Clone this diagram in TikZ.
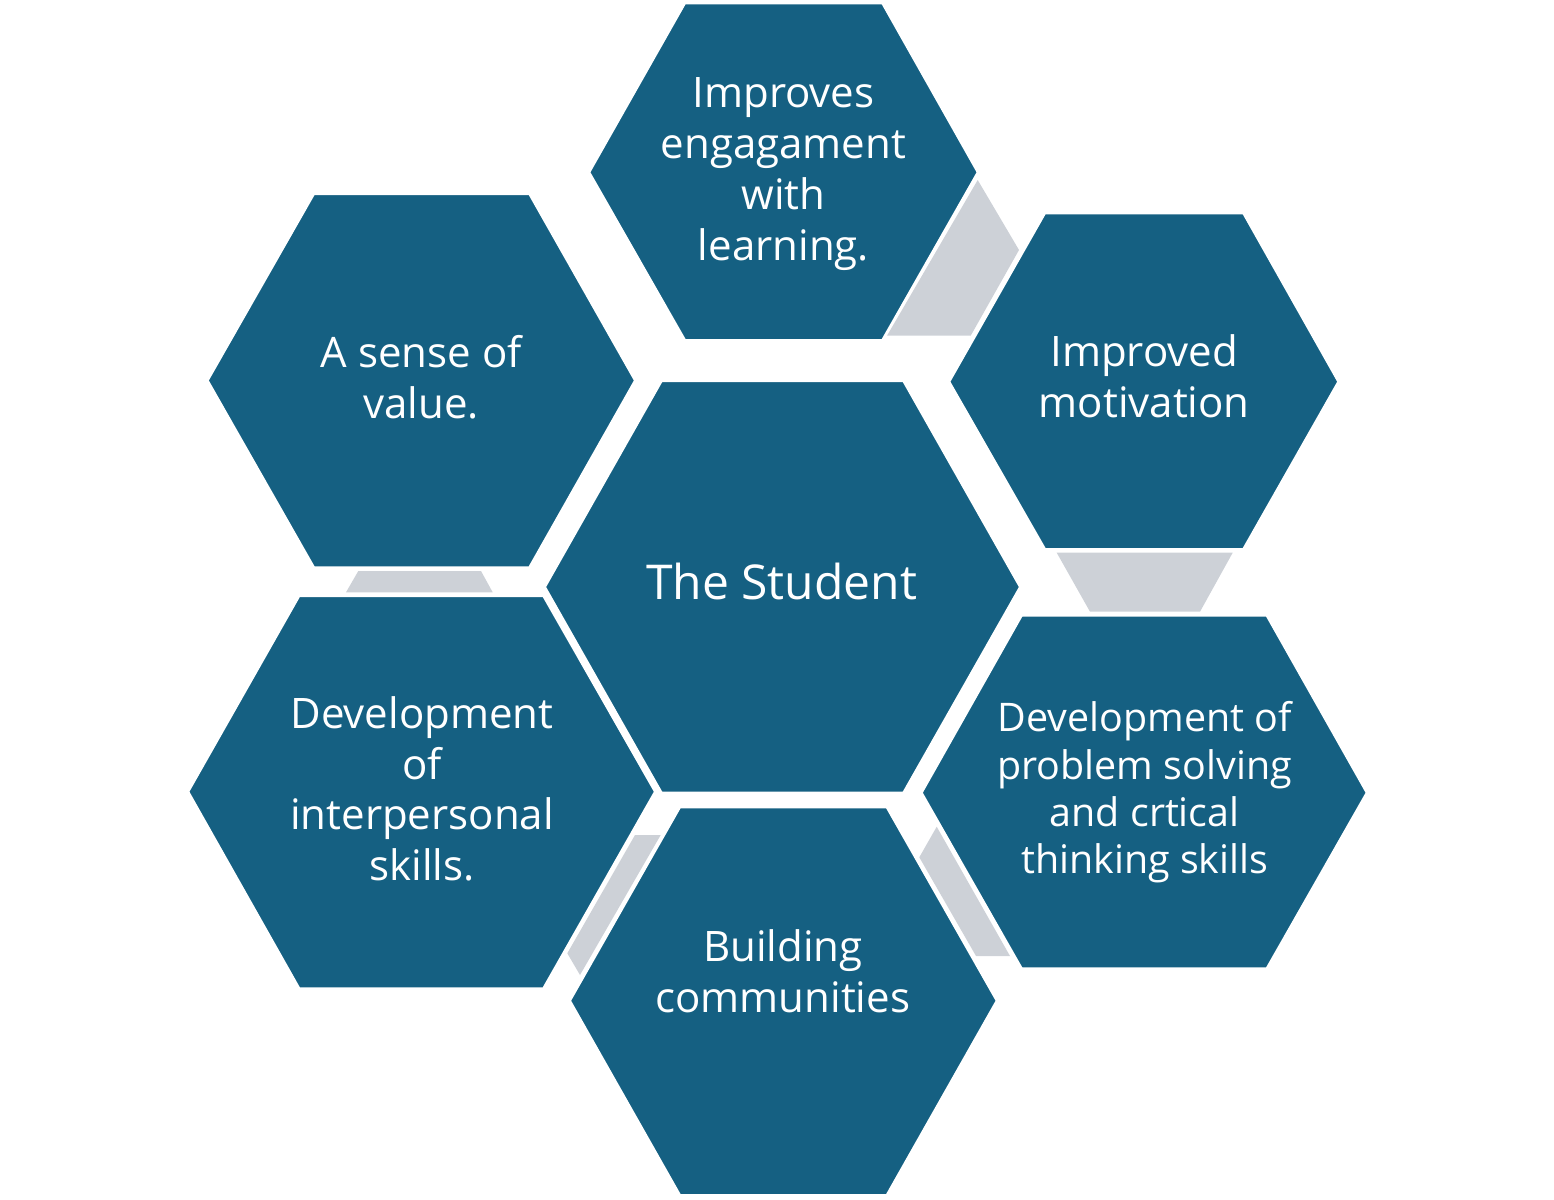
\documentclass[tikz,border=0pt]{standalone}
\usepackage{fontspec}
\setmainfont{Open Sans}
\definecolor{hexblue}{HTML}{156082}
\definecolor{linkgray}{HTML}{CDD1D7}

\begin{document}
\begin{tikzpicture}[x=0.5pt, y=-0.5pt,
    hexcell/.style={fill=hexblue, draw=white, line width=1pt},
    link/.style={fill=linkgray},
    hexlabel/.style={text=white, align=center, inner sep=0pt, font=\fontsize{21}{25.4}\selectfont}]
  \useasboundingbox (0,0) rectangle (1554,1200);

  \path[link] (977.7,180) -- (1019,250) -- (970.7,335.7) -- (887,335.7) -- cycle;
  \path[link] (1056.7,552.7) -- (1232.7,552.7) -- (1200,611.7) -- (1090,611.7) -- cycle;
  \path[link] (358.3,571) -- (481,571) -- (492.7,592.3) -- (346,592.3) -- cycle;
  \path[link] (635,835) -- (660.7,835) -- (580,975) -- (567.3,953.3) -- cycle;
  \path[link] (936.7,826.7) -- (919.3,857.3) -- (976,956) -- (1010,956) -- cycle;

  \path[hexcell] (589.3,172.3) -- (685,3.3) -- (882.3,3.3) -- (977.7,172.3) -- (882.3,340) -- (685,340) -- cycle;
  \path[hexcell] (949.3,381.7) -- (1045,213.3) -- (1243.3,213.3) -- (1338.3,381.7) -- (1243.3,549) -- (1045,549) -- cycle;
  \path[hexcell] (207.7,380.5) -- (314,194) -- (529.3,194) -- (635,380.5) -- (529.3,567.3) -- (314,567.3) -- cycle;
  \path[hexcell] (545,587) -- (661.7,381) -- (903.3,381) -- (1020,587) -- (903.3,792.7) -- (661.7,792.7) -- cycle;
  \path[hexcell] (188.3,791.7) -- (299.3,596) -- (543.3,596) -- (655,791.7) -- (543.3,988.3) -- (299.3,988.3) -- cycle;
  \path[hexcell] (570,1000.7) -- (680,807.3) -- (886.7,807.3) -- (996.7,1000.7) -- (886.7,1195) -- (680,1195) -- cycle;
  \path[hexcell] (921.7,792.7) -- (1021.7,615.7) -- (1266.7,615.7) -- (1366.7,792.7) -- (1266.7,968.3) -- (1021.7,968.3) -- cycle;

  \node[hexlabel, anchor=base, font=\fontsize{24}{28.8}\selectfont] (student) at (781.7,599.3) {The Student};
  \node[hexlabel] (engage) at (783.5,174) {\strut Improves\\engagament\\with\\learning.\strut};
  \node[hexlabel] (motivation) at (1144.2,381.9) {\strut Improved\\motivation\strut};
  \node[hexlabel] (value) at (421.3,382.5) {\strut A sense of\\value.\strut};
  \node[hexlabel] (interpersonal) at (422,794.3) {\strut Development\\of\\interpersonal\\skills.\strut};
  \node[hexlabel] (community) at (782.8,976.9) {\strut Building\\communities\strut};
  \node[hexlabel, font=\fontsize{19.7}{23.65}\selectfont] (problem) at (1144.7,793.2) {\strut Development of\\problem solving\\and crtical\\thinking skills\strut};
\end{tikzpicture}
\end{document}
